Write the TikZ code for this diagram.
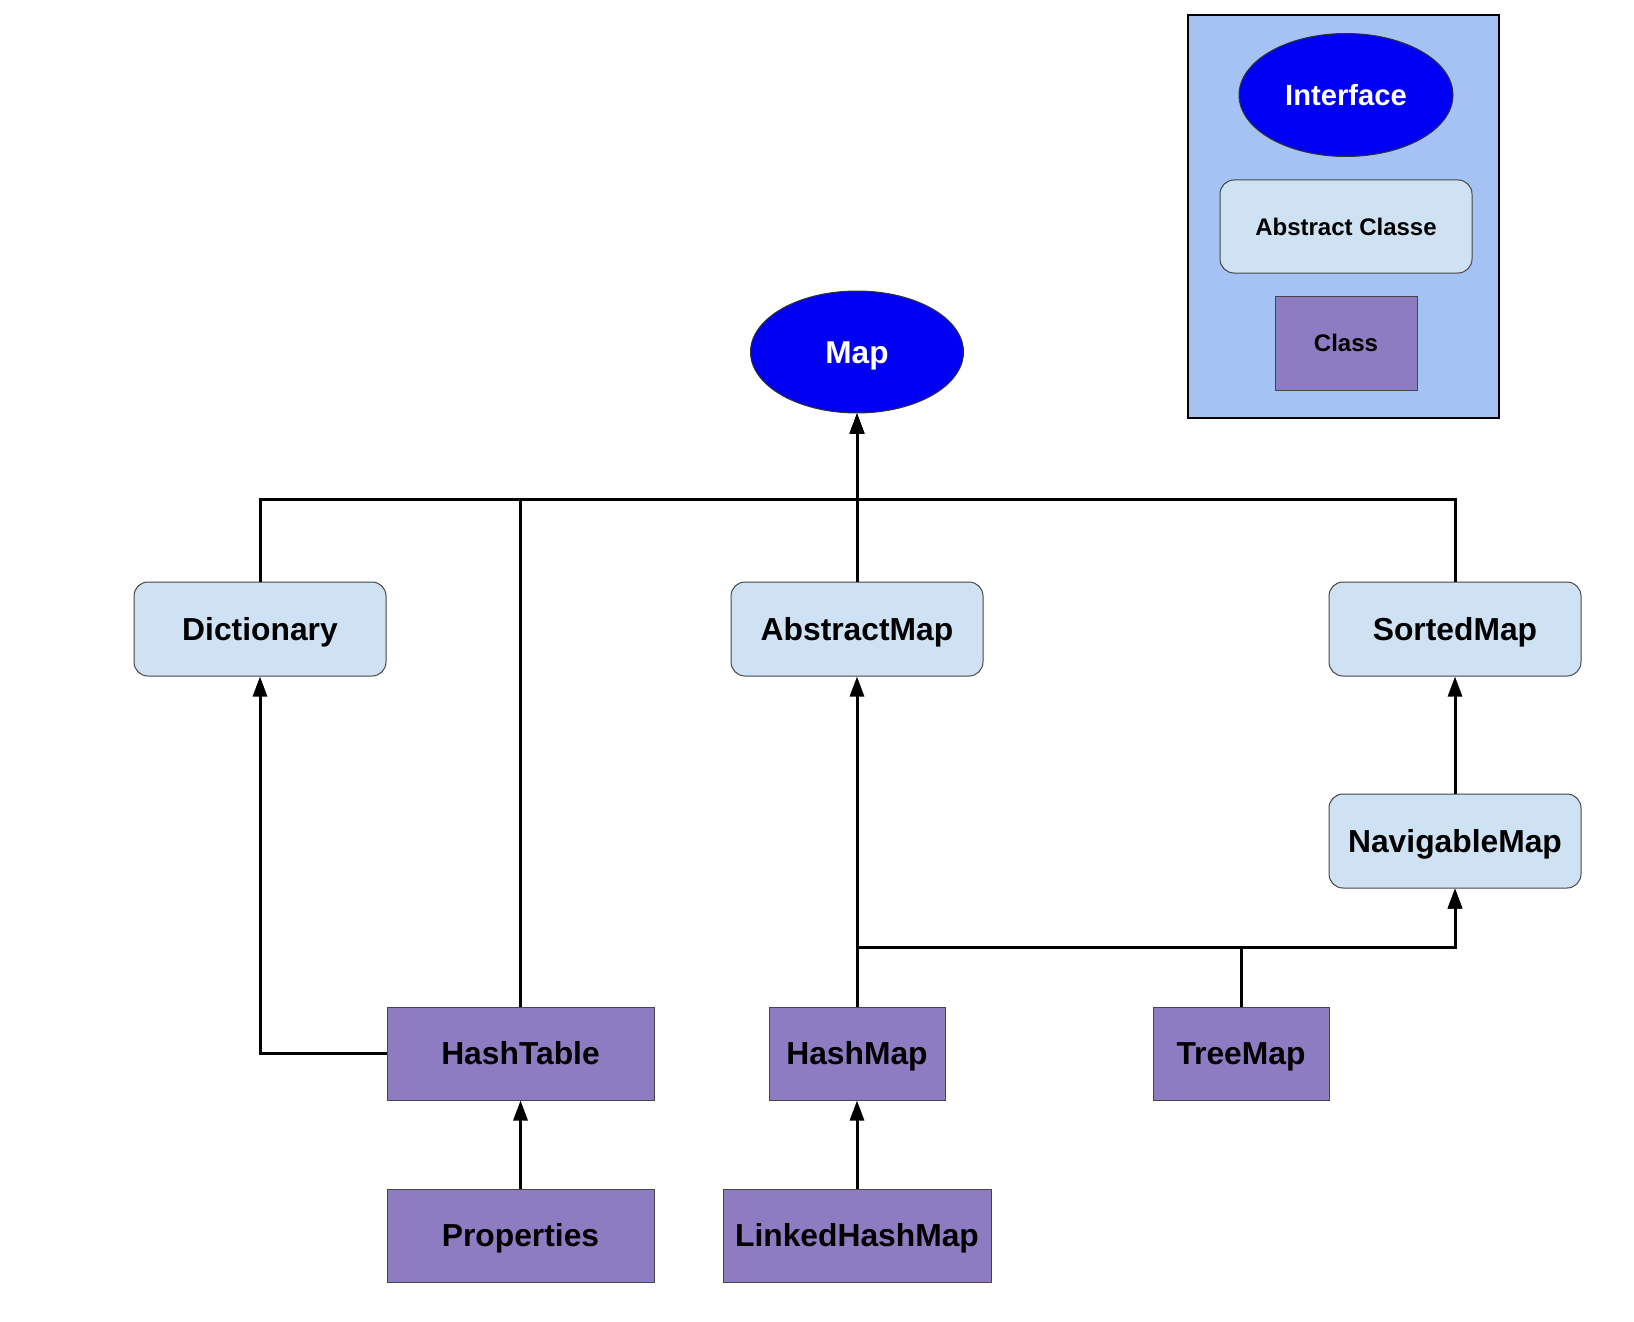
\documentclass[tikz,border=0pt]{standalone}
\usepackage{fontspec}
\setmainfont{Liberation Sans}
\usetikzlibrary{shapes.geometric,arrows.meta}
\definecolor{ifblue}{RGB}{0,0,245}
\definecolor{absfill}{RGB}{207,226,243}
\definecolor{clsfill}{RGB}{142,124,195}
\definecolor{legfill}{RGB}{164,194,244}
\definecolor{edgegray}{RGB}{70,70,70}
\tikzset{
  capcenter/.style={text height=11.4pt, text depth=0pt},
  iface/.style={ellipse, draw=black!80, line width=0.5pt, fill=ifblue, text=white, inner sep=0pt,
    text height=11.3pt, text depth=0pt, font=\bfseries\fontsize{15.8}{18}\selectfont},
  absbox/.style={rectangle, rounded corners=7pt, draw=edgegray, line width=0.5pt, fill=absfill,
    inner sep=0pt, minimum width=126pt, minimum height=47pt, capcenter, font=\bfseries\fontsize{15.9}{18}\selectfont},
  clsbox/.style={rectangle, draw=edgegray, line width=0.5pt, fill=clsfill,
    inner sep=0pt, minimum height=46.5pt, capcenter, font=\bfseries\fontsize{15.9}{18}\selectfont},
  conn/.style={line width=1.5pt, draw=black},
  arr/.style={conn, -{Triangle[length=10pt,width=7pt]}},
  legfont/.style={text height=8.6pt, text depth=0pt, font=\bfseries\fontsize{12}{14}\selectfont}
}
\begin{document}
\begin{tikzpicture}[x=0.5pt,y=-0.5pt]
\useasboundingbox (0,0) rectangle (1634,1322);
% legend
\node[rectangle, draw=black, line width=1pt, fill=legfill, minimum width=155.5pt, minimum height=201.5pt, inner sep=0pt] (legend) at (1343.5,216.5) {};
\node[iface, minimum width=107pt, minimum height=61.5pt, text height=10.45pt, font=\bfseries\fontsize{14.6}{17}\selectfont] (lif) at (1346,95) {Interface};
\node[absbox, legfont, minimum width=126pt, minimum height=46.5pt] (labs) at (1346,226.5) {Abstract Classe};
\node[clsbox, legfont, minimum width=71pt, minimum height=47pt] (lcls) at (1346,343) {Class};
% main nodes
\node[iface, minimum width=106.5pt, minimum height=61pt] (map) at (857,352) {Map};
\node[absbox] (dict) at (260,629) {Dictionary};
\node[absbox] (amap) at (857,629) {AbstractMap};
\node[absbox] (smap) at (1455,629) {SortedMap};
\node[absbox] (nmap) at (1455,841) {NavigableMap};
\node[clsbox, minimum width=133.5pt] (htable) at (520.5,1053.5) {HashTable};
\node[clsbox, minimum width=88pt] (hmap) at (857,1053.5) {HashMap};
\node[clsbox, minimum width=88pt] (tmap) at (1241,1053.5) {TreeMap};
\node[clsbox, minimum width=133.5pt] (props) at (520.5,1235.5) {Properties};
\node[clsbox, minimum width=134pt] (lhmap) at (857,1235.5) {LinkedHashMap};
\coordinate (b1) at (857,499);
\coordinate (b2) at (857,947);
% connectors
\draw[arr] (dict.north) |- (b1) -- (map.south);
\draw[arr] (htable.north) |- (b1) -- (map.south);
\draw[arr] (smap.north) |- (b1) -- (map.south);
\draw[arr] (amap.north) -- (map.south);
\draw[arr] (htable.west) -| (dict.south);
\draw[arr] (props.north) -- (htable.south);
\draw[arr] (lhmap.north) -- (hmap.south);
\draw[arr] (hmap.north) -- (amap.south);
\draw[arr] (hmap.north) -- (b2) -| (nmap.south);
\draw[arr] (tmap.north) -- (tmap.north |- b2) -| (nmap.south);
\draw[arr] (nmap.north) -- (smap.south);
\end{tikzpicture}
\end{document}
